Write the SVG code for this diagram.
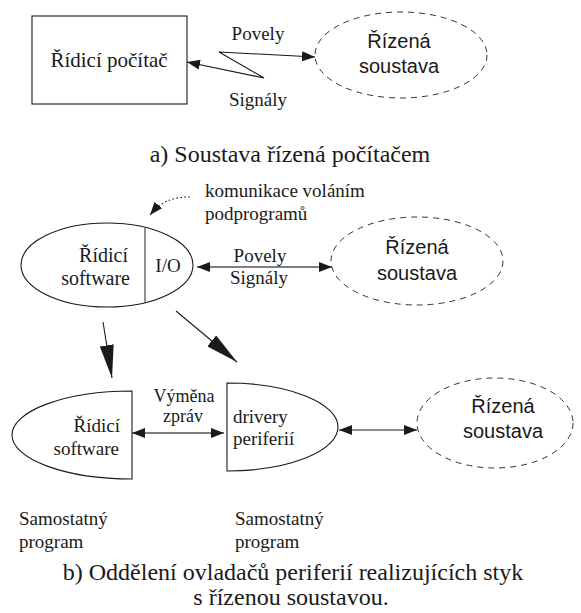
<svg xmlns="http://www.w3.org/2000/svg" width="581" height="613" viewBox="0 0 581 613">
  <style>
    .serif { font-family: "Liberation Serif", "Times New Roman", serif; fill: #1a1a1a; }
    .sans { font-family: "Liberation Sans", Arial, sans-serif; fill: #1a1a1a; }
    .shape { fill: none; stroke: #1a1a1a; stroke-width: 1.1; }
    .dashed { fill: none; stroke: #333; stroke-width: 1; stroke-dasharray: 6 5; }
    .line { fill: none; stroke: #1a1a1a; stroke-width: 1.1; }
    .gray { fill: none; stroke: #555; stroke-width: 1.3; }
    .mid { text-anchor: middle; }
    .end { text-anchor: end; }
  </style>
  <defs>
    <marker id="head" markerUnits="userSpaceOnUse" markerWidth="14" markerHeight="10" refX="13" refY="5" orient="auto-start-reverse">
      <path d="M0,0 L13,5 L0,10 Z" fill="#1a1a1a"/>
    </marker>
    <marker id="bighead" markerUnits="userSpaceOnUse" markerWidth="34" markerHeight="14" refX="33" refY="7" orient="auto">
      <path d="M0,0 L33,7 L0,14 Z" fill="#1a1a1a"/>
    </marker>
  </defs>

  <!-- part a: computer controlling a plant -->
  <g id="pocitac">
    <rect class="shape" x="32" y="16" width="155" height="88"/>
    <text class="serif mid" x="109" y="67" font-size="21">Řídicí počítač</text>
  </g>
  <g id="soustava-a">
    <ellipse class="dashed" cx="401" cy="55" rx="86" ry="43"/>
    <text class="sans mid" x="399" y="48" font-size="20">Řízená</text>
    <text class="sans mid" x="399" y="73" font-size="20">soustava</text>
  </g>
  <text class="serif mid" x="258" y="40" font-size="19">Povely</text>
  <text class="serif mid" x="258" y="106" font-size="19">Signály</text>
  <text class="serif mid" x="290" y="162" font-size="24">a) Soustava řízená počítačem</text>

  <!-- part b, upper: control software with built-in I/O -->
  <g id="software-io">
    <ellipse class="shape" cx="107" cy="265" rx="86" ry="42"/>
    <line class="gray" x1="145" y1="227" x2="145" y2="303"/>
    <text class="serif end" x="128" y="262" font-size="20">Řídicí</text>
    <text class="serif end" x="130" y="285" font-size="20">software</text>
    <text class="serif mid" x="168" y="272" font-size="19">I/O</text>
  </g>
  <g id="soustava-b">
    <ellipse class="dashed" cx="417" cy="261" rx="86" ry="44"/>
    <text class="sans mid" x="417" y="254" font-size="20">Řízená</text>
    <text class="sans mid" x="417" y="280" font-size="20">soustava</text>
  </g>
  <text class="serif" x="205" y="197" font-size="19">komunikace voláním</text>
  <text class="serif" x="205" y="220" font-size="19">podprogramů</text>
  <text class="serif mid" x="260" y="262" font-size="19">Povely</text>
  <text class="serif mid" x="259" y="284" font-size="19">Signály</text>

  <!-- part b, lower: separate programs -->
  <g id="software">
    <path class="shape" d="M132,391 A120,44 0 0 0 132,479 Z"/>
    <text class="serif end" x="120" y="432" font-size="19">Řídicí</text>
    <text class="serif end" x="119" y="455" font-size="19">software</text>
  </g>
  <g id="drivery">
    <path class="shape" d="M227,383 A111,44 0 0 1 227,471 Z"/>
    <text class="serif" x="233" y="423" font-size="19">drivery</text>
    <text class="serif" x="233" y="445" font-size="19">periferií</text>
  </g>
  <g id="soustava-c">
    <ellipse class="dashed" cx="495" cy="423" rx="78" ry="45"/>
    <text class="sans mid" x="503" y="413" font-size="20">Řízená</text>
    <text class="sans mid" x="503" y="438" font-size="20">soustava</text>
  </g>
  <text class="serif mid" x="184" y="402" font-size="18">Výměna</text>
  <text class="serif mid" x="183" y="422" font-size="18">zpráv</text>
  <text class="serif" x="19" y="525" font-size="19">Samostatný</text>
  <text class="serif" x="19" y="548" font-size="19">program</text>
  <text class="serif" x="235" y="525" font-size="19">Samostatný</text>
  <text class="serif" x="235" y="548" font-size="19">program</text>
  <text class="serif mid" x="293" y="580" font-size="24">b) Oddělení ovladačů periferií realizujících styk</text>
  <text class="serif mid" x="291" y="605" font-size="24">s řízenou soustavou.</text>

  <g id="connectors">
    <polyline class="line" points="187,62 264,78 219,52 315,57" marker-start="url(#head)" marker-end="url(#head)"/>
    <path class="line" d="M190,197 C170,197 160,203 150,215" stroke-dasharray="1.5 2.5" marker-end="url(#head)"/>
    <line class="gray" x1="197" y1="267" x2="332" y2="267" marker-start="url(#head)" marker-end="url(#head)"/>
    <line class="line" x1="103" y1="322" x2="112" y2="378" marker-end="url(#bighead)"/>
    <line class="line" x1="176" y1="311" x2="237" y2="362" marker-end="url(#bighead)"/>
    <line class="gray" x1="132" y1="433" x2="224" y2="433" marker-start="url(#head)" marker-end="url(#head)"/>
    <line class="line" x1="339" y1="430" x2="417" y2="430" marker-start="url(#head)" marker-end="url(#head)"/>
  </g>
</svg>
